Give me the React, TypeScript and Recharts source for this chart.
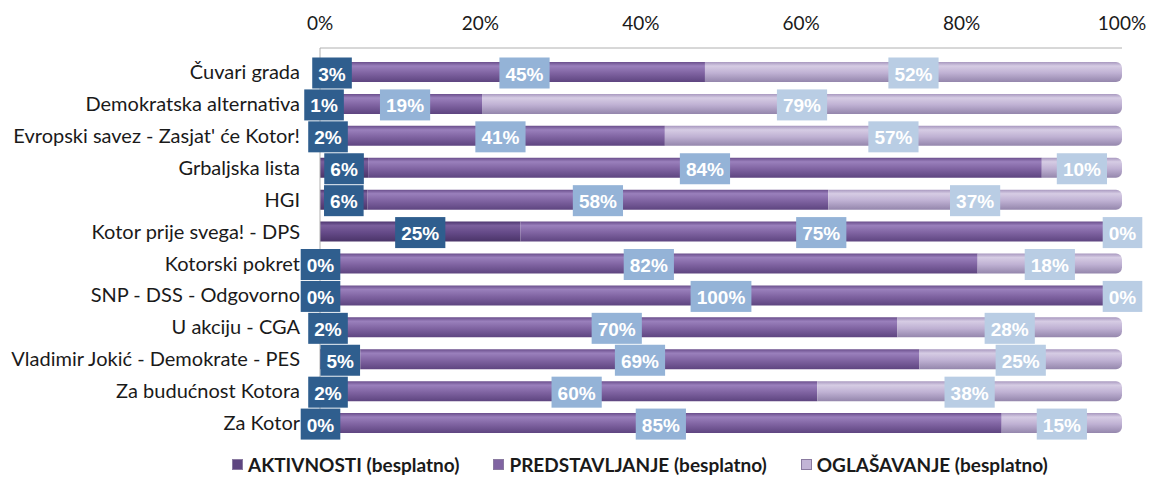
import { BarChart, Bar, XAxis, YAxis, Legend, LabelList } from "recharts";

const parties = [
  "Čuvari grada",
  "Demokratska alternativa",
  "Evropski savez - Zasjat' će Kotor!",
  "Grbaljska lista",
  "HGI",
  "Kotor prije svega! - DPS",
  "Kotorski pokret",
  "SNP - DSS - Odgovorno",
  "U akciju - CGA",
  "Vladimir Jokić - Demokrate - PES",
  "Za budućnost Kotora",
  "Za Kotor",
];
const aktivnosti = [3, 1, 2, 6, 6, 25, 0, 0, 2, 5, 2, 0];
const predstavljanje = [45, 19, 41, 84, 58, 75, 82, 100, 70, 69, 60, 85];
const oglasavanje = [52, 79, 57, 10, 37, 0, 18, 0, 28, 25, 38, 15];
const percentTicks = [0, 20, 40, 60, 80, 100];

const seriesNames = [
  "AKTIVNOSTI (besplatno)",
  "PREDSTAVLJANJE (besplatno)",
  "OGLAŠAVANJE (besplatno)",
];

const rows = parties.map((name, i) => ({
  name,
  akt: aktivnosti[i],
  pred: predstavljanje[i],
  ogl: oglasavanje[i],
}));

const FONT = "Lato, 'Liberation Sans', Arial, sans-serif";
const LABEL_FONT = "'Liberation Sans', Arial, sans-serif";

const makeLabel = (key: "akt" | "pred" | "ogl", boxColor: string) => (props: any) => {
  const { x, y, width, height, value, payload } = props;
  let v = value;
  if (Array.isArray(v) || typeof v !== "number") v = payload ? payload[key] : v;
  const text = `${v}%`;
  const digits = String(v).length;
  const boxW = digits * 10.6 + 17 + 12;
  const boxH = 31;
  const cx = Number(x) + Number(width) / 2;
  const cy = Number(y) + Number(height) / 2 + 1;
  return (
    <g>
      <rect x={cx - boxW / 2} y={cy - boxH / 2} width={boxW} height={boxH} fill={boxColor} />
      <text
        x={cx}
        y={cy + 1}
        textAnchor="middle"
        dominantBaseline="central"
        fill="#ffffff"
        fontFamily={LABEL_FONT}
        fontWeight="bold"
        fontSize={19}
      >
        {text}
      </text>
    </g>
  );
};

const legendColors = ["#5e4580", "#8064a2", "#c2b4d6"];

const renderLegend = () => (
  <div style={{ display: "flex", fontFamily: FONT, fontWeight: "bold", fontSize: 19, color: "#1a1a1a" }}>
    {seriesNames.map((n, i) => (
      <div key={n} style={{ display: "flex", alignItems: "center", marginRight: i < 2 ? 34 : 0 }}>
        <span
          style={{
            display: "inline-block",
            width: 9,
            height: 9,
            background: legendColors[i],
            border: "1px solid #8a7aa0",
            marginRight: 5,
          }}
        />
        {n}
      </div>
    ))}
  </div>
);

export default function App() {
  return (
    <div style={{ position: "absolute", left: 0, top: 0, background: "#fff" }}>
      <BarChart
        width={1158}
        height={479}
        data={rows}
        layout="vertical"
        stackOffset="expand"
        barSize={20}
        margin={{ top: 6, right: 36, bottom: 17, left: 10 }}
      >
        <defs>
          <linearGradient id="gAkt" x1="0" y1="0" x2="0" y2="1">
            <stop offset="0%" stopColor="#4d3670" />
            <stop offset="20%" stopColor="#7a5f9c" />
            <stop offset="55%" stopColor="#654a88" />
            <stop offset="100%" stopColor="#4a3468" />
          </linearGradient>
          <linearGradient id="gPred" x1="0" y1="0" x2="0" y2="1">
            <stop offset="0%" stopColor="#6a4e8c" />
            <stop offset="20%" stopColor="#9a80bc" />
            <stop offset="55%" stopColor="#8064a2" />
            <stop offset="100%" stopColor="#5e4580" />
          </linearGradient>
          <linearGradient id="gOgl" x1="0" y1="0" x2="0" y2="1">
            <stop offset="0%" stopColor="#a898bf" />
            <stop offset="20%" stopColor="#d6cce4" />
            <stop offset="55%" stopColor="#bfb1d3" />
            <stop offset="100%" stopColor="#9486ac" />
          </linearGradient>
        </defs>
        <XAxis
          type="number"
          orientation="top"
          domain={[0, 1]}
          ticks={percentTicks.map((t) => t / 100)}
          tickFormatter={(t: number) => `${Math.round(t * 100)}%`}
          tickLine={false}
          axisLine={{ stroke: "#b0b0b0" }}
          tickMargin={12}
          tick={{ fill: "#1a1a1a", fontSize: 19, fontFamily: FONT }}
          height={42}
        />
        <YAxis
          type="category"
          dataKey="name"
          width={310}
          padding={{ top: 8, bottom: 0 }}
          tickLine={false}
          axisLine={{ stroke: "#b0b0b0" }}
          tickMargin={14}
          tick={{ fill: "#1a1a1a", fontSize: 20, fontFamily: FONT }}
          interval={0}
        />
        <Legend
          content={renderLegend}
          wrapperStyle={{ position: "absolute", left: 232, top: 453, width: 860 }}
        />
        <Bar dataKey="akt" name={seriesNames[0]} stackId="a" fill="url(#gAkt)" minPointSize={1} isAnimationActive={false}>
          <LabelList dataKey="akt" content={makeLabel("akt", "#2f5e8e")} />
        </Bar>
        <Bar dataKey="pred" name={seriesNames[1]} stackId="a" fill="url(#gPred)" minPointSize={1} isAnimationActive={false}>
          <LabelList dataKey="pred" content={makeLabel("pred", "#94b3d7")} />
        </Bar>
        <Bar
          dataKey="ogl"
          name={seriesNames[2]}
          stackId="a"
          fill="url(#gOgl)"
          minPointSize={1}
          radius={[0, 6, 6, 0]}
          isAnimationActive={false}
        >
          <LabelList dataKey="ogl" content={makeLabel("ogl", "#b9cde4")} />
        </Bar>
      </BarChart>
    </div>
  );
}
